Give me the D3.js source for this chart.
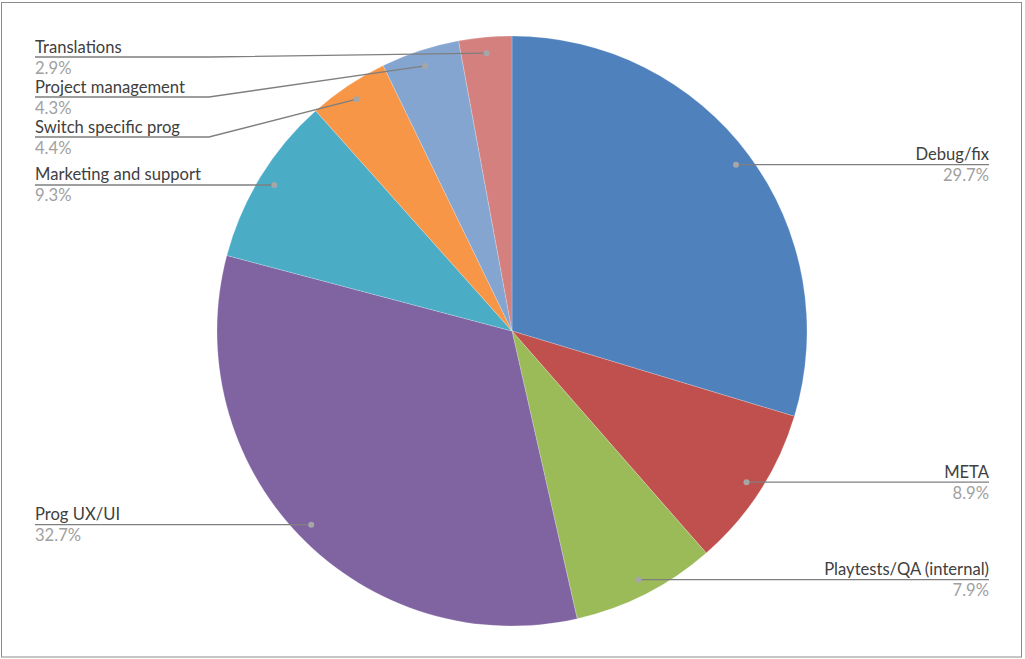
<!DOCTYPE html>
<html><head><meta charset="utf-8">
<script src="https://cdn.jsdelivr.net/npm/d3@7"></script>
<style>body{margin:0;background:#fff}svg{display:block}</style>
</head><body>
<svg id="c" width="1025" height="659"></svg>
<script>
const categories = ["Debug/fix","META","Playtests/QA (internal)","Prog UX/UI","Marketing and support","Switch specific prog","Project management","Translations"];
const values = [29.7, 8.9, 7.9, 32.7, 9.3, 4.4, 4.3, 2.9];
const percentLabels = ["29.7%","8.9%","7.9%","32.7%","9.3%","4.4%","4.3%","2.9%"];
const colors = ["#4F81BD","#C0504D","#9BBB59","#8064A2","#4BACC6","#F79646","#84A5D0","#D3807E"];

const svg = d3.select("#c");
const cx = 512, cy = 331, R = 295, dotR = 279;
const leftX = 35, rightX = 989, elbowX = 209, spacing = 40, topLimit = 57;
const font = "Lato, 'Open Sans', sans-serif";
const fs = 16.6;

// chart border
svg.append("rect").attr("x",1.5).attr("y",2.5).attr("width",1020).attr("height",654.5)
  .attr("fill","#fff").attr("stroke","#8c8c8c").attr("stroke-width",1);

const data = categories.map((c,i)=>({name:c, value:values[i], pct:percentLabels[i], color:colors[i]}));
const pie = d3.pie().value(d=>d.value).sort(null);
const arcs = pie(data);
const arc = d3.arc().innerRadius(0).outerRadius(R);
const g = svg.append("g").attr("transform",`translate(${cx},${cy})`);
g.selectAll("path").data(arcs).join("path")
  .attr("d",arc).attr("fill",d=>d.data.color)
  .attr("stroke","rgba(255,255,255,0.35)").attr("stroke-width",0.6);

// label layout
const dotArc = d3.arc().innerRadius(dotR).outerRadius(dotR);
arcs.forEach(a=>{
  const [x,y] = dotArc.centroid(a);
  a.dx = cx + x; a.dy = cy + y;
  a.side = x >= 0 ? "right" : "left";
});
["left","right"].forEach(side=>{
  const s = arcs.filter(a=>a.side===side).sort((p,q)=>p.dy-q.dy);
  let prev = -Infinity;
  s.forEach(a=>{
    a.ly = Math.max(a.dy, prev + spacing, topLimit);
    prev = a.ly;
  });
});

const lab = svg.append("g");
arcs.forEach(a=>{
  const lx = a.side==="right" ? rightX : leftX;
  let pts;
  if (Math.abs(a.ly - a.dy) < 0.5) pts = [[a.dx,a.ly],[lx,a.ly]];
  else pts = [[a.dx,a.dy],[elbowX,a.ly],[lx,a.ly]];
  lab.append("path").attr("d",d3.line()(pts)).attr("fill","none")
    .attr("stroke","#7f7f7f").attr("stroke-width",1.3);
  lab.append("circle").attr("cx",a.dx).attr("cy",a.dy).attr("r",3).attr("fill","#a6a6a6");
  const anchor = a.side==="right" ? "end" : "start";
  lab.append("text").attr("x",lx).attr("y",a.ly-4.5).attr("text-anchor",anchor)
    .attr("font-family",font).attr("font-size",fs).attr("fill","#404040").text(a.data.name);
  lab.append("text").attr("x",lx).attr("y",a.ly+16.5).attr("text-anchor",anchor)
    .attr("font-family",font).attr("font-size",fs).attr("fill","#a0a0a0").text(a.data.pct);
});
</script>
</body></html>
